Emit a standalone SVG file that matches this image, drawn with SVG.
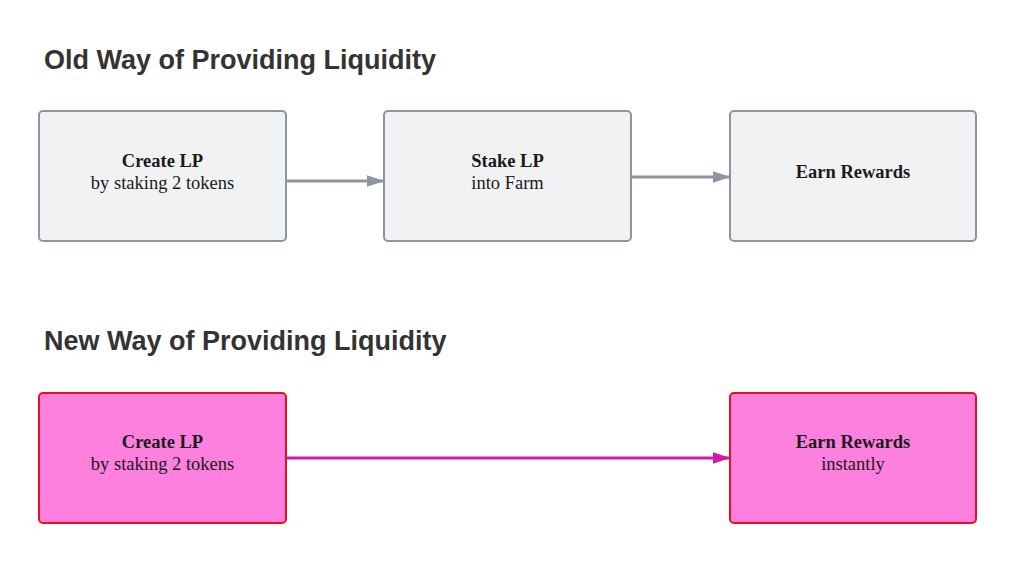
<svg xmlns="http://www.w3.org/2000/svg" width="1024" height="588" viewBox="0 0 1024 588">
<style>
.title{font-family:"Liberation Sans",Arial,sans-serif;font-weight:bold;font-size:27px;fill:#333333}
.gray{fill:#f1f2f4;stroke:#8e95a1;stroke-width:2}
.pink{fill:#fd80de;stroke:#e8101e;stroke-width:2}
.b{font-family:"Liberation Serif","Times New Roman",serif;font-weight:bold;font-size:18.5px;fill:#1a1a1a;text-anchor:middle}
.r{font-family:"Liberation Serif","Times New Roman",serif;font-size:18.5px;fill:#1a1a1a;text-anchor:middle}
.cg{stroke:#8e95a1;stroke-width:3;fill:none}
.cp{stroke:#d11aa8;stroke-width:3;fill:none}
</style>
<defs>
<marker id="ag" markerWidth="6" markerHeight="4" refX="5.5" refY="2" orient="auto" markerUnits="strokeWidth"><path d="M0,0 L6,2 L0,4 z" fill="#8e95a1"/></marker>
<marker id="ap" markerWidth="6" markerHeight="4" refX="5.5" refY="2" orient="auto" markerUnits="strokeWidth"><path d="M0,0 L6,2 L0,4 z" fill="#d11aa8"/></marker>
</defs>
<rect width="1024" height="588" fill="#ffffff"/>
<text class="title" x="44" y="69">Old Way of Providing Liquidity</text>
<text class="title" x="44" y="350">New Way of Providing Liquidity</text>
<g id="connectors">
<line class="cg" x1="287" y1="181" x2="383" y2="181" marker-end="url(#ag)"/>
<line class="cg" x1="632" y1="177" x2="729" y2="177" marker-end="url(#ag)"/>
<line class="cp" x1="287" y1="458" x2="729" y2="458" marker-end="url(#ap)"/>
</g>
<g id="old-create">
<rect class="gray" x="39" y="111" width="247" height="130" rx="4"/>
<text class="b" x="162.5" y="167">Create LP</text>
<text class="r" x="162.5" y="189">by staking 2 tokens</text>
</g>
<g id="old-stake">
<rect class="gray" x="384" y="111" width="247" height="130" rx="4"/>
<text class="b" x="507.5" y="167">Stake LP</text>
<text class="r" x="507.5" y="189">into Farm</text>
</g>
<g id="old-earn">
<rect class="gray" x="730" y="111" width="246" height="130" rx="4"/>
<text class="b" x="853" y="178">Earn Rewards</text>
</g>
<g id="new-create">
<rect class="pink" x="39" y="393" width="247" height="130" rx="4"/>
<text class="b" x="162.5" y="448">Create LP</text>
<text class="r" x="162.5" y="470">by staking 2 tokens</text>
</g>
<g id="new-earn">
<rect class="pink" x="730" y="393" width="246" height="130" rx="4"/>
<text class="b" x="853" y="448">Earn Rewards</text>
<text class="r" x="853" y="470">instantly</text>
</g>
</svg>
